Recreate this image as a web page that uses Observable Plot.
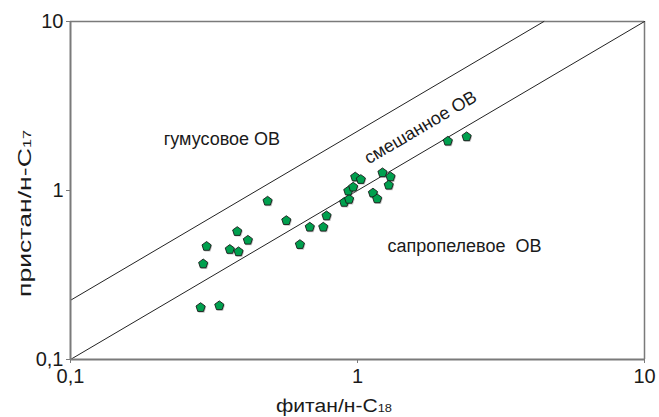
<!DOCTYPE html>
<html><head><meta charset="utf-8">
<script src="https://cdn.jsdelivr.net/npm/d3@7"></script>
<script src="https://cdn.jsdelivr.net/npm/@observablehq/plot@0.6"></script>
<style>
body{margin:0;background:#fff;}
svg, svg text{font-family:"Liberation Sans",Arial,sans-serif !important;}
</style>
</head><body><div id="chart"></div>
<script>
// phytane / n-C18 (x) and pristane / n-C17 (y)
const phytane  = [0.284,0.330,0.290,0.298,0.359,0.385,0.381,0.415,0.486,0.565,0.630,0.682,0.760,0.780,0.899,0.935,0.929,0.966,0.982,1.027,1.132,1.171,1.222,1.303,1.285,2.064,2.40];
const pristane = [0.203,0.208,0.368,0.467,0.448,0.434,0.572,0.508,0.865,0.664,0.479,0.607,0.607,0.708,0.851,0.887,0.993,1.047,1.202,1.162,0.966,0.893,1.273,1.205,1.075,1.958,2.08];

const tickValues = [0.1, 1, 10];
const tickLabels = ["0,1", "1", "10"];

// boundary lines
const lowerLineX = [0.1, 10];
const lowerLineY = [0.1, 10];
const upperLineX = [0.1, 4.46];
const upperLineY = [0.224, 10];

// region labels
const regionNames  = ["гумусовое ОВ", "смешанное ОВ", "сапропелевое\u00a0 ОВ"];
const regionX      = [0.337, 1.658, 2.36];
const regionY      = [2.02, 2.36, 0.467];
const regionRotate = [0, -30.5, 0];

const xLabelMain = "фитан/н-C", xLabelSub = "18";
const yLabelMain = "пристан/н-C", yLabelSub = "17";

const points = phytane.map((x, i) => ({x, y: pristane[i]}));
const lowerLine = lowerLineX.map((x, i) => ({x, y: lowerLineY[i]}));
const upperLine = upperLineX.map((x, i) => ({x, y: upperLineY[i]}));
const regions = regionNames.map((name, i) => ({name, x: regionX[i], y: regionY[i], r: regionRotate[i]}));

const pentagon = {
  draw(context, size) {
    const R = Math.sqrt(size / 2.3776);
    for (let i = 0; i < 5; i++) {
      const a = -Math.PI / 2 + i * 2 * Math.PI / 5;
      const px = R * Math.cos(a), py = R * Math.sin(a);
      if (i === 0) context.moveTo(px, py); else context.lineTo(px, py);
    }
    context.closePath();
  }
};

const fmt = d => tickLabels[tickValues.indexOf(d)];

const chart = Plot.plot({
  width: 659,
  height: 417,
  marginLeft: 70,
  marginRight: 15,
  marginTop: 21,
  marginBottom: 58,
  style: "font-family: 'Liberation Sans', Arial, sans-serif; font-size: 20px; background: #fff;",
  x: {type: "log", domain: [0.1, 10]},
  y: {type: "log", domain: [0.1, 10]},
  marks: [
    Plot.ruleX([10], {stroke: "#7a7a7a", strokeWidth: 1.5}),
    Plot.ruleY([10], {stroke: "#7a7a7a", strokeWidth: 1.5}),
    Plot.line(lowerLine, {x: "x", y: "y", stroke: "#222", strokeWidth: 1}),
    Plot.line(upperLine, {x: "x", y: "y", stroke: "#222", strokeWidth: 1}),
    Plot.dot(points, {x: "x", y: "y", symbol: pentagon, r: 4.2, fill: "#999", fillOpacity: 0.6, stroke: "none", dx: 1, dy: 1.2}),
    Plot.dot(points, {x: "x", y: "y", symbol: pentagon, r: 4.2, fill: "#00a04e", stroke: "#1a1a1a", strokeWidth: 0.9}),
    Plot.text(regions, {x: "x", y: "y", text: "name", rotate: "r", fontSize: 18, fill: "#1a1a1a", textAnchor: "middle", lineAnchor: "middle"}),
    Plot.axisX(tickValues, {tickFormat: fmt, tickSize: 4, tickPadding: 5, stroke: "#7a7a7a", fill: "#1a1a1a", label: null}),
    Plot.axisY(tickValues, {tickFormat: fmt, tickSize: 4, tickPadding: 3, stroke: "#7a7a7a", fill: "#1a1a1a", label: null}),
    Plot.ruleX([0.1], {stroke: "#7a7a7a", strokeWidth: 2}),
    Plot.ruleY([0.1], {stroke: "#7a7a7a", strokeWidth: 2})
  ]
});

document.getElementById("chart").appendChild(chart);

const svg = d3.select(chart);
const xl = svg.append("text")
  .attr("x", 334).attr("y", 412)
  .attr("text-anchor", "middle")
  .attr("font-size", 18)
  .attr("fill", "#1a1a1a")
  .attr("textLength", 116).attr("lengthAdjust", "spacingAndGlyphs");
xl.append("tspan").text(xLabelMain);
xl.append("tspan").attr("font-size", 11).text(xLabelSub);

const yl = svg.append("text")
  .attr("transform", "translate(31,213.5) rotate(-90)")
  .attr("text-anchor", "middle")
  .attr("font-size", 18)
  .attr("fill", "#1a1a1a")
  .attr("textLength", 167).attr("lengthAdjust", "spacingAndGlyphs");
yl.append("tspan").text(yLabelMain);
yl.append("tspan").attr("font-size", 11).text(yLabelSub);
</script>
</body></html>
